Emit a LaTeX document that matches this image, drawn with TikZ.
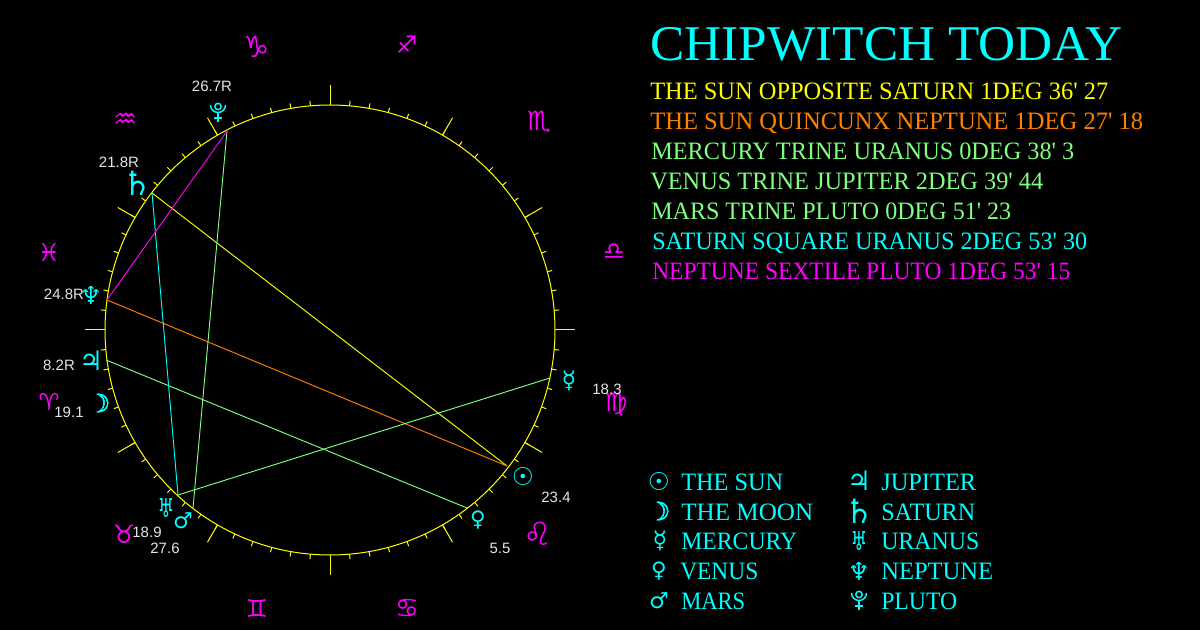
\documentclass[tikz,border=0pt]{standalone}
\usepackage{fontspec}
\usetikzlibrary{calc}
\newfontfamily\cin{Liberation Serif}
\newfontfamily\lab{Liberation Sans}
\newfontfamily\sym{DejaVu Sans}
\newfontfamily\symb[FakeBold=2.5]{DejaVu Sans}
\newdimen\pxu \pxu=0.75pt
\newcommand\fw[2]{\resizebox{#1\pxu}{\height}{#2}}
\newcommand\narrowglyph[1]{\scalebox{0.72}[1]{#1}}
\definecolor{acyan}{HTML}{00FFFF}
\definecolor{amag}{HTML}{FF00FF}
\definecolor{ayel}{HTML}{FFFF00}
\definecolor{aora}{HTML}{FF8000}
\definecolor{agrn}{HTML}{80FF80}
\tikzset{
  x=0.75pt,y=-0.75pt,
  titletext/.style={anchor=base west,inner sep=0pt,text=acyan,font=\cin\fontsize{37.5}{40}\selectfont},
  linetext/.style={anchor=base west,inner sep=0pt,font=\cin\fontsize{18.75}{20}\selectfont},
  planet/.style={inner sep=0pt,text=acyan,font=\sym\fontsize{#1}{#1}\selectfont},
  sign/.style={inner sep=0pt,text=amag,font=\sym\fontsize{#1}{#1}\selectfont},
  psun/.style={planet=18.5},
  pmoon/.style={inner sep=0pt,text=acyan,font=\symb\fontsize{19}{19}\selectfont},
  pmerc/.style={planet=18},
  pvenus/.style={planet=16},
  pmars/.style={planet=16.5},
  pjup/.style={planet=20},
  psat/.style={planet=25},
  pura/.style={planet=19.5},
  pnep/.style={planet=18.5},
  deg/.style={inner sep=0pt,text=white!90!black,font=\lab\fontsize{11.25}{12}\selectfont},
  ring/.style={ayel,line width=0.75pt},
  aspect/.style={line width=0.7pt},
  pics/plutosign/.style={code={
    \draw[acyan,line width=1.1pt] (0,-6.5) circle[radius=3.2];
    \draw[acyan,line width=1.1pt] (-7.5,-8) arc[start angle=180,end angle=0,radius=7.5];
    \draw[acyan,line width=1.1pt] (0,-0.5)--(0,9.5) (-4,5)--(4,5);
  }}
}
\begin{document}
\begin{tikzpicture}
\useasboundingbox (0,0) rectangle (1200,630);
\fill[black] (0,0) rectangle (1200,630);
% wheel
\coordinate (c) at (330,330);
\draw[ring] (c) circle[radius=225];
\foreach \a in {0,5,...,355}{\draw[ring] ($(c)+(\a:225)$) -- ($(c)+(\a:230)$);}
\foreach \a in {0,30,...,330}{\draw[ring] ($(c)+(\a:225)$) -- ($(c)+(\a:245)$);}
% aspect end points
\coordinate (pSun) at (507,466);
\coordinate (pSat) at (152,193);
\coordinate (pNep) at (107,300);
\coordinate (pJup) at (106,360);
\coordinate (pVen) at (467,508);
\coordinate (pMer) at (550,378);
\coordinate (pUra) at (178,495);
\coordinate (pMar) at (193,508);
\coordinate (pPlu) at (227,131);
\draw[aspect,ayel] (pSun) -- (pSat);
\draw[aspect,aora] (pSun) -- (pNep);
\draw[aspect,agrn] (pMer) -- (pUra);
\draw[aspect,agrn] (pVen) -- (pJup);
\draw[aspect,agrn] (pMar) -- (pPlu);
\draw[aspect,acyan] (pSat) -- (pUra);
\draw[aspect,amag] (pNep) -- (pPlu);
% signs
\node[sign=22] (sCap) at (257,47) {♑};
\node[sign=18] (sSag) at (407,45) {♐};
\node[sign=20] (sSco) at (539,122) {♏};
\node[sign=18] (sLib) at (614,252) {♎};
\node[sign=19] (sVir) at (616,405) {♍};
\node[sign=24] (sLeo) at (538,534) {♌};
\node[sign=20] (sCan) at (407,608) {♋};
\node[sign=18.5] (sGem) at (257,608) {♊};
\node[sign=19] (sTau) at (124,534) {♉};
\node[sign=17.5] (sAri) at (49,402) {♈};
\node[sign=18.5] (sPis) at (49,252) {♓};
\node[sign=20] (sAqu) at (125,121) {♒};
% planets on the wheel
\pic at (218,113) {plutosign};
\node[psat] (gSat) at (137,183) {♄};
\node[pnep] (gNep) at (91,295) {♆};
\node[pjup] (gJup) at (91,361) {♃};
\node[pmoon] (gMoo) at (99,403) {☽};
\node[pura] (gUra) at (166,508) {\narrowglyph{♅}};
\node[pmars] (gMar) at (183,521) {♂};
\node[pvenus] (gVen) at (478,520) {♀};
\node[psun] (gSun) at (523,476) {☉};
\node[pmerc] (gMer) at (569,381) {☿};
% degree labels
\node[deg] (d1) at (212,86) {26.7R};
\node[deg] (d2) at (119,162) {21.8R};
\node[deg] (d3) at (64,294) {24.8R};
\node[deg] (d4) at (59,365) {8.2R};
\node[deg] (d5) at (69,412) {19.1};
\node[deg] (d6) at (147,532) {18.9};
\node[deg] (d7) at (165,548) {27.6};
\node[deg] (d8) at (500,548) {5.5};
\node[deg] (d9) at (556,497) {23.4};
\node[deg] (d10) at (607,389) {18.3};
% title and aspects
\node[titletext] (title) at (650,61) {\fw{472}{CHIPWITCH TODAY}};
\node[linetext,text=ayel] (a1) at (650,100) {\fw{458}{THE SUN OPPOSITE SATURN 1DEG 36' 27}};
\node[linetext,text=aora] (a2) at (650,130) {\fw{493}{THE SUN QUINCUNX NEPTUNE 1DEG 27' 18}};
\node[linetext,text=agrn] (a3) at (651,160) {\fw{423}{MERCURY TRINE URANUS 0DEG 38' 3}};
\node[linetext,text=agrn] (a4) at (650,190) {\fw{393}{VENUS TRINE JUPITER 2DEG 39' 44}};
\node[linetext,text=agrn] (a5) at (651,220) {\fw{360}{MARS TRINE PLUTO 0DEG 51' 23}};
\node[linetext,text=acyan] (a6) at (652,250) {\fw{435}{SATURN SQUARE URANUS 2DEG 53' 30}};
\node[linetext,text=amag] (a7) at (652,280) {\fw{418}{NEPTUNE SEXTILE PLUTO 1DEG 53' 15}};
% legend
\node[psun] (lSun) at (659,481) {☉};
\node[pmoon] (lMoo) at (659,511) {☽};
\node[pmerc] (lMer) at (660,541) {☿};
\node[pvenus] (lVen) at (659,571) {♀};
\node[pmars] (lMar) at (659,601) {♂};
\node[pjup] (lJup) at (859,481) {♃};
\node[psat] (lSat) at (859,511) {♄};
\node[pura] (lUra) at (859,541) {\narrowglyph{♅}};
\node[pnep] (lNep) at (859,571) {♆};
\pic at (859,601) {plutosign};
\node[linetext,text=acyan] (t1) at (681,491) {\fw{102}{THE SUN}};
\node[linetext,text=acyan] (t2) at (681,521) {\fw{132}{THE MOON}};
\node[linetext,text=acyan] (t3) at (681,550) {\fw{116}{MERCURY}};
\node[linetext,text=acyan] (t4) at (680,580) {\fw{78}{VENUS}};
\node[linetext,text=acyan] (t5) at (681,610) {\fw{64}{MARS}};
\node[linetext,text=acyan] (t6) at (881,491) {\fw{95}{JUPITER}};
\node[linetext,text=acyan] (t7) at (881,521) {\fw{94}{SATURN}};
\node[linetext,text=acyan] (t8) at (881,550) {\fw{98}{URANUS}};
\node[linetext,text=acyan] (t9) at (881,580) {\fw{112}{NEPTUNE}};
\node[linetext,text=acyan] (t10) at (881,610) {\fw{76}{PLUTO}};
\end{tikzpicture}
\end{document}
